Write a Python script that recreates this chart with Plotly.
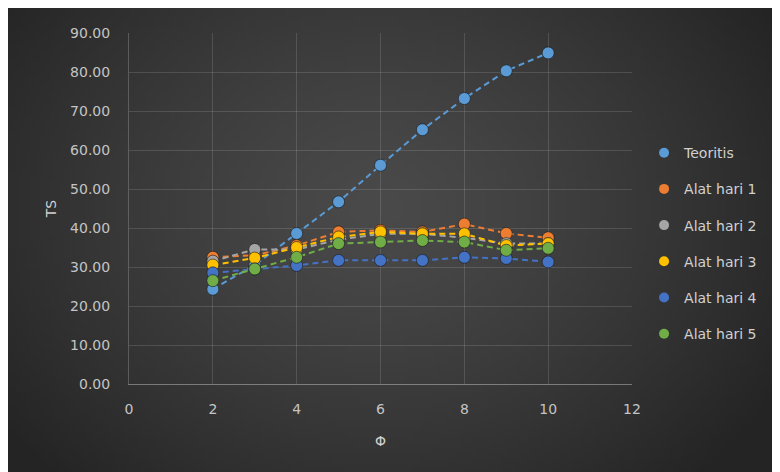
import base64, struct, zlib
import numpy as np
import plotly.graph_objects as go

# ---- data ----
phi = [2, 3, 4, 5, 6, 7, 8, 9, 10]
teoritis = [24.3, 30.5, 38.6, 46.7, 56.1, 65.2, 73.2, 80.3, 84.9]
alat_hari_1 = [32.5, 33.0, 35.5, 39.0, 39.4, 39.0, 41.0, 38.6, 37.5]
alat_hari_2 = [31.5, 34.5, 34.5, 37.0, 38.5, 38.5, 37.5, 36.0, 36.0]
alat_hari_3 = [30.5, 32.3, 35.0, 37.7, 39.0, 38.5, 38.5, 35.5, 36.0]
alat_hari_4 = [28.5, 29.5, 30.4, 31.7, 31.7, 31.7, 32.5, 32.2, 31.3]
alat_hari_5 = [26.5, 29.5, 32.5, 36.0, 36.4, 36.8, 36.4, 34.3, 34.8]

series_names = ["Teoritis", "Alat hari 1", "Alat hari 2", "Alat hari 3", "Alat hari 4", "Alat hari 5"]
series_values = [teoritis, alat_hari_1, alat_hari_2, alat_hari_3, alat_hari_4, alat_hari_5]
series_colors = ["#5B9BD5", "#ED7D31", "#A5A5A5", "#FFC000", "#4472C4", "#70AD47"]
y_ticks = [0, 10, 20, 30, 40, 50, 60, 70, 80, 90]
x_ticks = [0, 2, 4, 6, 8, 10, 12]


# ---- background gradient image (styling only) ----
def png_uri(arr):
    h, w, _ = arr.shape
    raw = b"".join(b"\x00" + arr[r].tobytes() for r in range(h))

    def chunk(tag, data):
        c = struct.pack(">I", len(data)) + tag + data
        return c + struct.pack(">I", zlib.crc32(tag + data) & 0xFFFFFFFF)

    png = b"\x89PNG\r\n\x1a\n"
    png += chunk(b"IHDR", struct.pack(">IIBBBBB", w, h, 8, 2, 0, 0, 0))
    png += chunk(b"IDAT", zlib.compress(raw, 9))
    png += chunk(b"IEND", b"")
    return "data:image/png;base64," + base64.b64encode(png).decode()


W, H = 156, 94
yy, xx = np.mgrid[0:H, 0:W]
cx, cy = W * 0.47, H * 0.42
d = np.sqrt(((xx - cx) / (W * 0.60)) ** 2 + ((yy - cy) / (H * 0.80)) ** 2)
d = np.clip(d, 0, 1)
val = (74 - (74 - 36) * d ** 1.3).astype(np.uint8)
bg = np.stack([val, val, val], axis=-1)
bg_uri = png_uri(bg)

FONT = "DejaVu Sans, sans-serif"

fig = go.Figure()
for name, vals, col in zip(series_names, series_values, series_colors):
    fig.add_trace(go.Scatter(
        x=phi, y=vals, name=name, mode="lines+markers",
        line=dict(color=col, width=2, dash="6px,4px"),
        marker=dict(color=col, size=12, line=dict(color="rgba(25,25,25,0.6)", width=1)),
        legendgroup=name, showlegend=False,
    ))
# legend entries (marker only, as in the reference)
for name, col in zip(series_names, series_colors):
    fig.add_trace(go.Scatter(
        x=[None], y=[None], name=name, mode="markers",
        marker=dict(color=col, size=10),
        legendgroup=name, showlegend=True,
    ))

L, R, T, B = 121, 156, 25, 96
pw, ph = 780 - L - R, 472 - T - B
fig.add_layout_image(dict(
    source=bg_uri, xref="paper", yref="paper",
    x=-L / pw, y=1 + T / ph,
    sizex=780 / pw, sizey=472 / ph,
    xanchor="left", yanchor="top", sizing="stretch", layer="below",
))

axis_font = dict(family=FONT, size=14, color="#c4c4c4")
fig.update_layout(
    width=780, height=472,
    margin=dict(l=L, r=R, t=T, b=B),
    paper_bgcolor="#2e2e2e",
    plot_bgcolor="rgba(0,0,0,0)",
    font=axis_font,
    showlegend=True,
    legend=dict(
        x=1.024, y=0.40, xanchor="left", yanchor="middle",
        font=dict(family=FONT, size=14, color="#d0d0d0"),
        bgcolor="rgba(0,0,0,0)", tracegroupgap=15, itemwidth=30,
    ),
    xaxis=dict(
        range=[0, 12], tickvals=x_ticks, ticktext=[str(v) for v in x_ticks],
        showgrid=True, gridcolor="rgba(255,255,255,0.13)", gridwidth=1,
        zeroline=False, showline=True, linecolor="rgba(255,255,255,0.35)", linewidth=1,
        ticks="", ticklabelstandoff=12,
        title=dict(text="Φ", font=dict(family=FONT, size=14, color="#d0d0d0"), standoff=20),
        tickfont=axis_font,
    ),
    yaxis=dict(
        range=[0, 90], tickvals=y_ticks, ticktext=[f"{v:.2f}" for v in y_ticks],
        showgrid=True, gridcolor="rgba(255,255,255,0.13)", gridwidth=1,
        zeroline=False, showline=True, linecolor="rgba(255,255,255,0.2)", linewidth=1,
        ticks="", ticklabelstandoff=15,
        title=dict(text="TS", font=dict(family=FONT, size=14, color="#d0d0d0"), standoff=10),
        tickfont=axis_font,
    ),
)

fig.write_html("out.html")
